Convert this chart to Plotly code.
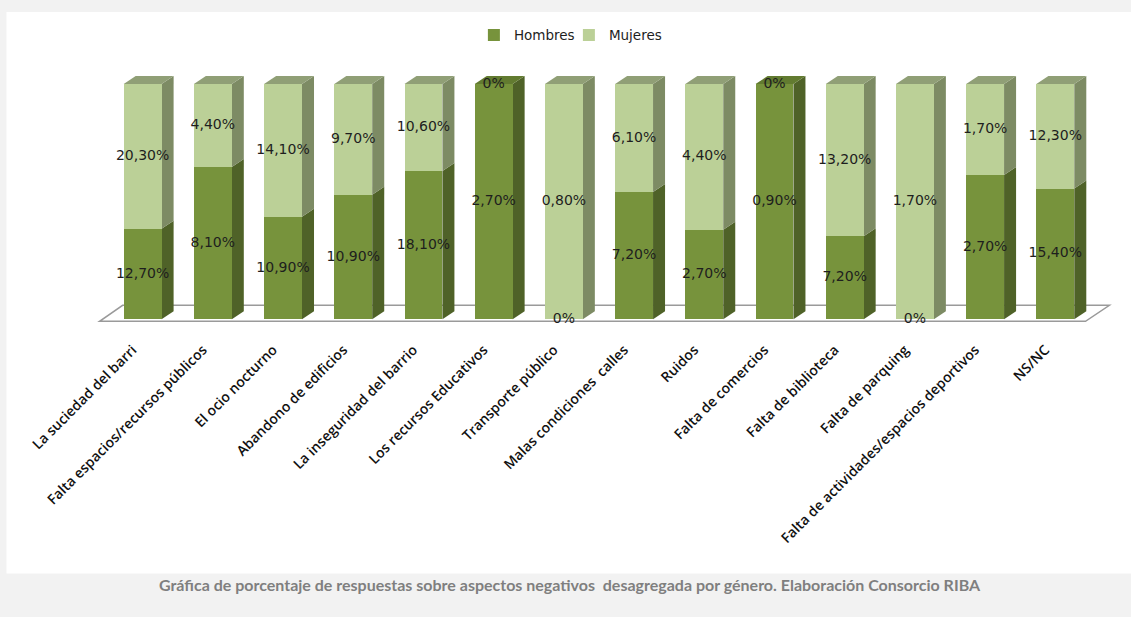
import plotly.graph_objects as go

categories = [
    "La suciedad del barri", "Falta espacios/recursos públicos", "El ocio nocturno",
    "Abandono de edificios", "La inseguridad del barrio", "Los recursos Educativos",
    "Transporte público", "Malas condiciones  calles", "Ruidos", "Falta de comercios",
    "Falta de biblioteca", "Falta de parquing", "Falta de actividades/espacios deportivos",
    "NS/NC",
]
hombres = [12.7, 8.1, 10.9, 10.9, 18.1, 2.7, 0.0, 7.2, 2.7, 0.9, 7.2, 0.0, 2.7, 15.4]
mujeres = [20.3, 4.4, 14.1, 9.7, 10.6, 0.0, 0.8, 6.1, 4.4, 0.0, 13.2, 1.7, 1.7, 12.3]

C_H = "#77933C"
C_H_SIDE = "#4F6228"
C_H_TOP = "#627B30"
C_M = "#BBD097"
C_M_SIDE = "#7D8B64"
C_M_TOP = "#909F76"

BAR_W = 0.54
DX = 0.171
DY = 3.4


def fmt(v):
    if v == 0:
        return "0%"
    return f"{v:.2f}".replace(".", ",") + "%"


n = len(categories)
idx = list(range(n))
h_pct = [h / (h + m) * 100 for h, m in zip(hombres, mujeres)]
m_pct = [m / (h + m) * 100 for h, m in zip(hombres, mujeres)]

fig = go.Figure()
fig.add_trace(go.Bar(x=idx, y=h_pct, name="Hombres", marker=dict(color=C_H, line=dict(width=0)),
                     width=BAR_W, hoverinfo="skip"))
fig.add_trace(go.Bar(x=idx, y=m_pct, name="Mujeres", marker=dict(color=C_M, line=dict(width=0)),
                     width=BAR_W, hoverinfo="skip"))

label_font = dict(family="DejaVu Sans", size=14, color="#1e1e1e")
fig.add_trace(go.Scatter(x=idx, y=[p / 2 for p in h_pct], mode="text",
                         text=[fmt(v) for v in hombres], textfont=label_font,
                         showlegend=False, hoverinfo="skip"))
fig.add_trace(go.Scatter(x=idx, y=[hp + mp / 2 for hp, mp in zip(h_pct, m_pct)], mode="text",
                         text=[fmt(v) for v in mujeres], textfont=label_font,
                         showlegend=False, hoverinfo="skip"))

shapes = []
# white chart panel on grey page
shapes.append(dict(type="rect", xref="paper", yref="paper", x0=-0.0889, x1=1.02, y0=-0.982, y1=1.228,
                   fillcolor="white", line=dict(width=0), layer="below"))
# floor
shapes.append(dict(type="path", xref="x", yref="y", layer="below",
                   path="M -0.613,-0.85 L 13.43,-0.85 L 13.77,5.96 L -0.285,5.96 Z",
                   fillcolor="rgba(255,255,255,0)", line=dict(color="#9a9a9a", width=1.5)))
# 3D side and top faces
for i in idx:
    xr = i + BAR_W / 2
    xl = i - BAR_W / 2
    segs = [(0, h_pct[i], C_H_SIDE), (h_pct[i], 100, C_M_SIDE)]
    for y0, y1, col in segs:
        if y1 - y0 <= 0:
            continue
        shapes.append(dict(type="path", xref="x", yref="y", layer="between",
                           path=f"M {xr},{y0} L {xr + DX},{y0 + DY} L {xr + DX},{y1 + DY} L {xr},{y1} Z",
                           fillcolor=col, line=dict(width=0)))
    top_col = C_M_TOP if m_pct[i] > 0 else C_H_TOP
    shapes.append(dict(type="path", xref="x", yref="y", layer="between",
                       path=f"M {xl},100 L {xl + DX},{100 + DY} L {xr + DX},{100 + DY} L {xr},100 Z",
                       fillcolor=top_col, line=dict(width=0)))

fig.update_layout(
    width=1131, height=617,
    barmode="stack",
    paper_bgcolor="#F2F2F2",
    plot_bgcolor="rgba(0,0,0,0)",
    margin=dict(l=97, r=16, t=70, b=293, autoexpand=False),
    bargap=0.46,
    shapes=shapes,
    showlegend=True,
    legend=dict(orientation="h", xref="container", yref="container", x=0.503, y=0.943,
                xanchor="center", yanchor="middle", font=dict(family="DejaVu Sans", size=13.5, color="#1e1e1e"),
                bgcolor="rgba(0,0,0,0)", itemwidth=30, traceorder="normal",
                entrywidth=50, entrywidthmode="pixels"),
    xaxis=dict(range=[-0.65, 13.85], tickmode="array", tickvals=idx, ticktext=categories,
               tickangle=-45, showgrid=False, zeroline=False, showline=False, ticks="",
               ticklabelshift=-10, ticklabelstandoff=14,
               tickfont=dict(family="Open Sans", size=14, color="#111111", weight=600)),
    yaxis=dict(range=[-2, 106], visible=False, showgrid=False, zeroline=False),
    annotations=[dict(
        text="Gráfica de porcentaje de respuestas sobre aspectos negativos  desagregada por género. Elaboración Consorcio RIBA",
        xref="paper", yref="paper", x=0.465, y=-1.026, xanchor="center", yanchor="middle",
        showarrow=False, font=dict(family="Lato", size=16, color="#7F7F7F", weight="bold"))],
)

fig.write_html("out.html", config={"displayModeBar": False},
               post_script="document.body.style.margin='0';")
